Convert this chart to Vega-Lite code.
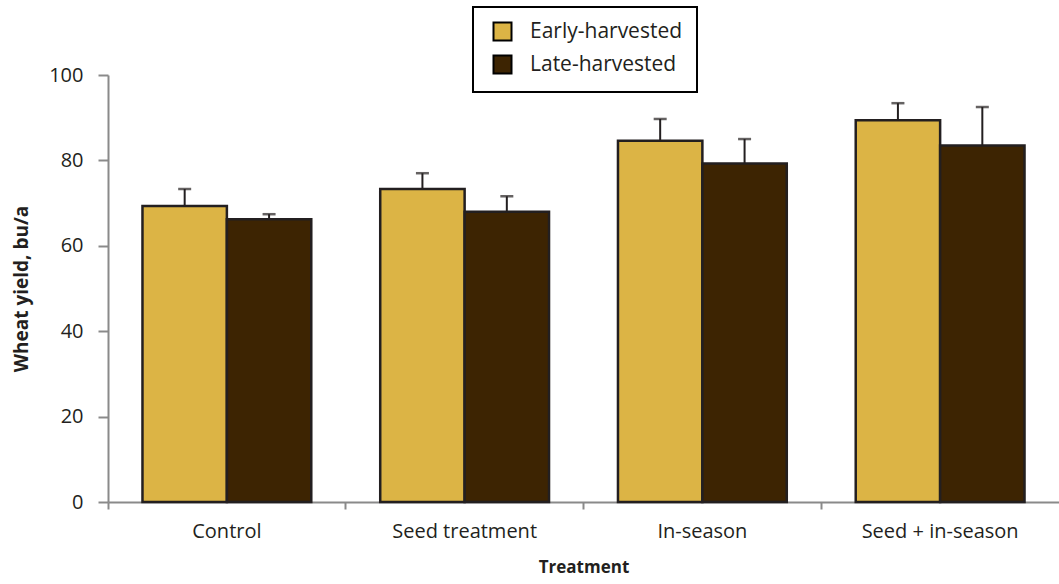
{
  "$schema": "https://vega.github.io/schema/vega-lite/v6.json",
  "width": 951,
  "height": 427,
  "autosize": {"type": "none"},
  "padding": {"left": 108, "top": 75, "right": 0, "bottom": 82},
  "background": "white",
  "data": {
    "values": [
      {"treatment": "Control", "harvest": "Early-harvested", "yield": 69.3, "upper": 73.3},
      {"treatment": "Control", "harvest": "Late-harvested", "yield": 66.2, "upper": 67.4},
      {"treatment": "Seed treatment", "harvest": "Early-harvested", "yield": 73.3, "upper": 77.0},
      {"treatment": "Seed treatment", "harvest": "Late-harvested", "yield": 68.0, "upper": 71.6},
      {"treatment": "In-season", "harvest": "Early-harvested", "yield": 84.6, "upper": 89.7},
      {"treatment": "In-season", "harvest": "Late-harvested", "yield": 79.3, "upper": 85.0},
      {"treatment": "Seed + in-season", "harvest": "Early-harvested", "yield": 89.4, "upper": 93.4},
      {"treatment": "Seed + in-season", "harvest": "Late-harvested", "yield": 83.5, "upper": 92.5}
    ]
  },
  "encoding": {
    "x": {
      "field": "treatment",
      "type": "nominal",
      "sort": ["Control", "Seed treatment", "In-season", "Seed + in-season"],
      "scale": {"paddingInner": 0.29, "paddingOuter": 0.145},
      "axis": {
        "title": "Treatment",
        "labelAngle": 0,
        "bandPosition": -0.204,
        "tickSize": 7,
        "labelPadding": 12,
        "titlePadding": 18
      }
    },
    "xOffset": {
      "field": "harvest",
      "type": "nominal",
      "sort": ["Early-harvested", "Late-harvested"],
      "scale": {"paddingInner": 0, "paddingOuter": 0}
    }
  },
  "layer": [
    {
      "mark": {"type": "bar", "stroke": "#231F20", "strokeWidth": 2.5},
      "encoding": {
        "y": {
          "field": "yield",
          "type": "quantitative",
          "scale": {"domain": [0, 100]},
          "axis": {
            "title": "Wheat yield, bu/a",
            "titleFontSize": 19,
            "values": [0, 20, 40, 60, 80, 100],
            "grid": false,
            "tickSize": 10,
            "labelPadding": 15,
            "titlePadding": 17
          }
        },
        "color": {
          "field": "harvest",
          "type": "nominal",
          "sort": ["Early-harvested", "Late-harvested"],
          "scale": {"domain": ["Early-harvested", "Late-harvested"], "range": ["#DCB445", "#3D2402"]},
          "legend": {
            "title": null,
            "orient": "none",
            "legendX": 365,
            "legendY": -68,
            "padding": 14,
            "symbolOffset": 5,
            "rowPadding": 6,
            "symbolType": "square",
            "symbolSize": 324,
            "symbolStrokeColor": "#000000",
            "symbolStrokeWidth": 2,
            "symbolOpacity": 1,
            "labelFontSize": 21,
            "labelFont": "Open Sans",
            "labelColor": "#231F20",
            "labelOffset": 17,
            "labelLimit": 400,
            "strokeColor": "#000000",
            "fillColor": "white",
            "encode": {"legend": {"update": {"strokeWidth": {"value": 2}}}}
          }
        }
      }
    },
    {
      "mark": {"type": "rule", "color": "#231F20", "strokeWidth": 2},
      "encoding": {
        "y": {"field": "yield", "type": "quantitative"},
        "y2": {"field": "upper"}
      }
    },
    {
      "mark": {"type": "tick", "color": "#231F20", "size": 13, "thickness": 2.5, "orient": "horizontal"},
      "encoding": {
        "y": {"field": "upper", "type": "quantitative"}
      }
    }
  ],
  "config": {
    "view": {"stroke": null},
    "font": "Open Sans",
    "axis": {
      "domainColor": "#8A8A8A",
      "domainWidth": 2,
      "tickColor": "#8A8A8A",
      "tickWidth": 2,
      "labelFont": "Open Sans",
      "labelFontSize": 20,
      "labelColor": "#231F20",
      "titleFont": "Open Sans",
      "titleFontSize": 17,
      "titleFontWeight": "bold",
      "titleColor": "#231F20"
    }
  }
}
